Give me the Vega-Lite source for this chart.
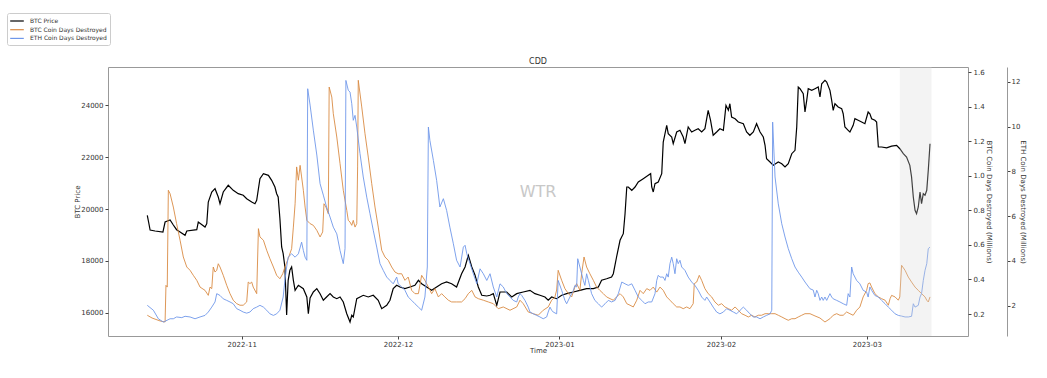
{
"$schema":"https://vega.github.io/schema/vega-lite/v6.json",
"width":860,"height":269,
"autosize":"none",
"padding":{"left":108,"top":67,"right":79,"bottom":42},
"background":"white",
"title":{"text":"CDD","fontSize":8,"font":"DejaVu Sans","fontWeight":"normal","color":"#333","offset":4,"frame":"group","anchor":"middle","dy":57.5},
"config":{
"view":{"stroke":"#999","strokeWidth":1},
"axis":{"labelFont":"DejaVu Sans","titleFont":"DejaVu Sans","labelFontSize":7,"titleFontSize":7,"titleFontWeight":"normal","labelColor":"#333","titleColor":"#333","tickColor":"#444","tickSize":3,"grid":false,"domain":false,"labelPadding":2}
},
"datasets":{
"btc":[
{"t":"2022-10-13T21:00","v":19758},{"t":"2022-10-14T03:00","v":19500},{"t":"2022-10-14T10:00","v":19192},{"t":"2022-10-15T09:00","v":19154},{"t":"2022-10-16T21:00","v":19115},{"t":"2022-10-17T07:00","v":19500},{"t":"2022-10-18T06:00","v":19577},{"t":"2022-10-18T21:00","v":19385},{"t":"2022-10-19T12:00","v":19204},{"t":"2022-10-20T04:00","v":19115},{"t":"2022-10-21T03:00","v":18989},{"t":"2022-10-21T11:00","v":19154},{"t":"2022-10-23T09:00","v":19204},{"t":"2022-10-23T16:00","v":19500},{"t":"2022-10-24T23:00","v":19308},{"t":"2022-10-25T07:00","v":19435},{"t":"2022-10-25T14:00","v":20269},{"t":"2022-10-26T06:00","v":20654},{"t":"2022-10-26T21:00","v":20781},{"t":"2022-10-27T12:00","v":20462},{"t":"2022-10-27T20:00","v":20204},{"t":"2022-10-28T11:00","v":20654},{"t":"2022-10-29T10:00","v":20912},{"t":"2022-10-30T09:00","v":20719},{"t":"2022-10-31T08:00","v":20589},{"t":"2022-11-01T07:00","v":20527},{"t":"2022-11-01T23:00","v":20396},{"t":"2022-11-02T22:00","v":20269},{"t":"2022-11-03T13:00","v":20204},{"t":"2022-11-03T21:00","v":20335},{"t":"2022-11-04T12:00","v":21166},{"t":"2022-11-05T04:00","v":21358},{"t":"2022-11-06T03:00","v":21296},{"t":"2022-11-06T18:00","v":21104},{"t":"2022-11-07T09:00","v":20846},{"t":"2022-11-07T17:00","v":20589},{"t":"2022-11-08T00:00","v":20462},{"t":"2022-11-08T08:00","v":19627},{"t":"2022-11-08T16:00","v":18539},{"t":"2022-11-08T23:00","v":18281},{"t":"2022-11-09T07:00","v":17770},{"t":"2022-11-09T15:00","v":15923},{"t":"2022-11-09T22:00","v":17258},{"t":"2022-11-10T06:00","v":17643},{"t":"2022-11-10T14:00","v":17770},{"t":"2022-11-10T22:00","v":17258},{"t":"2022-11-11T06:00","v":16873},{"t":"2022-11-11T21:00","v":17066},{"t":"2022-11-12T20:00","v":16935},{"t":"2022-11-13T12:00","v":16616},{"t":"2022-11-13T19:00","v":15973},{"t":"2022-11-14T03:00","v":16577},{"t":"2022-11-14T18:00","v":16808},{"t":"2022-11-15T10:00","v":16935},{"t":"2022-11-16T01:00","v":16743},{"t":"2022-11-16T16:00","v":16489},{"t":"2022-11-17T07:00","v":16616},{"t":"2022-11-17T23:00","v":16743},{"t":"2022-11-18T14:00","v":16616},{"t":"2022-11-19T06:00","v":16550},{"t":"2022-11-19T21:00","v":16616},{"t":"2022-11-20T12:00","v":16423},{"t":"2022-11-21T04:00","v":15973},{"t":"2022-11-21T19:00","v":15654},{"t":"2022-11-22T03:00","v":15912},{"t":"2022-11-22T10:00","v":15846},{"t":"2022-11-23T02:00","v":16550},{"t":"2022-11-23T17:00","v":16616},{"t":"2022-11-24T08:00","v":16681},{"t":"2022-11-25T07:00","v":16616},{"t":"2022-11-26T06:00","v":16681},{"t":"2022-11-27T05:00","v":16489},{"t":"2022-11-27T21:00","v":16166},{"t":"2022-11-28T20:00","v":16296},{"t":"2022-11-29T11:00","v":16489},{"t":"2022-11-30T02:00","v":16935},{"t":"2022-11-30T18:00","v":17066},{"t":"2022-12-01T09:00","v":17000},{"t":"2022-12-02T08:00","v":16935},{"t":"2022-12-03T07:00","v":17000},{"t":"2022-12-04T06:00","v":17066},{"t":"2022-12-04T22:00","v":17258},{"t":"2022-12-05T13:00","v":17127},{"t":"2022-12-06T12:00","v":17000},{"t":"2022-12-07T11:00","v":16873},{"t":"2022-12-08T10:00","v":17000},{"t":"2022-12-09T09:00","v":17127},{"t":"2022-12-10T08:00","v":17192},{"t":"2022-12-11T07:00","v":17127},{"t":"2022-12-12T06:00","v":17000},{"t":"2022-12-13T05:00","v":17512},{"t":"2022-12-13T21:00","v":17770},{"t":"2022-12-14T12:00","v":18219},{"t":"2022-12-15T04:00","v":17770},{"t":"2022-12-15T19:00","v":17450},{"t":"2022-12-16T10:00","v":17000},{"t":"2022-12-17T02:00","v":16681},{"t":"2022-12-18T01:00","v":16654},{"t":"2022-12-18T16:00","v":16681},{"t":"2022-12-19T07:00","v":16743},{"t":"2022-12-19T23:00","v":16296},{"t":"2022-12-20T14:00","v":16808},{"t":"2022-12-21T21:00","v":16808},{"t":"2022-12-22T20:00","v":16616},{"t":"2022-12-23T19:00","v":16743},{"t":"2022-12-25T01:00","v":16808},{"t":"2022-12-26T08:00","v":16873},{"t":"2022-12-27T07:00","v":16743},{"t":"2022-12-28T06:00","v":16681},{"t":"2022-12-29T05:00","v":16616},{"t":"2022-12-29T20:00","v":16489},{"t":"2022-12-30T12:00","v":16616},{"t":"2022-12-31T11:00","v":16550},{"t":"2023-01-01T10:00","v":16681},{"t":"2023-01-02T09:00","v":16743},{"t":"2023-01-03T16:00","v":16808},{"t":"2023-01-04T22:00","v":16873},{"t":"2023-01-06T05:00","v":16935},{"t":"2023-01-07T12:00","v":16935},{"t":"2023-01-08T11:00","v":17000},{"t":"2023-01-09T02:00","v":17258},{"t":"2023-01-10T01:00","v":17319},{"t":"2023-01-11T00:00","v":17385},{"t":"2023-01-11T08:00","v":17512},{"t":"2023-01-11T23:00","v":18154},{"t":"2023-01-12T15:00","v":18796},{"t":"2023-01-13T06:00","v":19050},{"t":"2023-01-13T14:00","v":19819},{"t":"2023-01-13T22:00","v":20846},{"t":"2023-01-14T05:00","v":20846},{"t":"2023-01-14T21:00","v":20719},{"t":"2023-01-15T12:00","v":20846},{"t":"2023-01-16T03:00","v":21038},{"t":"2023-01-17T02:00","v":21166},{"t":"2023-01-18T01:00","v":21296},{"t":"2023-01-18T12:00","v":21358},{"t":"2023-01-18T17:00","v":20846},{"t":"2023-01-19T00:00","v":20654},{"t":"2023-01-19T08:00","v":20973},{"t":"2023-01-19T23:00","v":21038},{"t":"2023-01-20T15:00","v":21358},{"t":"2023-01-20T22:00","v":22577},{"t":"2023-01-21T14:00","v":23219},{"t":"2023-01-21T21:00","v":22896},{"t":"2023-01-22T13:00","v":22769},{"t":"2023-01-22T20:00","v":22512},{"t":"2023-01-23T12:00","v":22962},{"t":"2023-01-24T03:00","v":23027},{"t":"2023-01-24T18:00","v":22769},{"t":"2023-01-25T02:00","v":22512},{"t":"2023-01-25T17:00","v":23154},{"t":"2023-01-26T09:00","v":22962},{"t":"2023-01-27T00:00","v":23027},{"t":"2023-01-27T15:00","v":23088},{"t":"2023-01-28T07:00","v":22962},{"t":"2023-01-28T22:00","v":23088},{"t":"2023-01-29T13:00","v":23796},{"t":"2023-01-30T00:00","v":23412},{"t":"2023-01-30T12:00","v":22835},{"t":"2023-01-31T04:00","v":22962},{"t":"2023-01-31T19:00","v":23088},{"t":"2023-02-01T11:00","v":23027},{"t":"2023-02-01T23:00","v":23988},{"t":"2023-02-02T10:00","v":23796},{"t":"2023-02-02T17:00","v":24050},{"t":"2023-02-03T01:00","v":23538},{"t":"2023-02-03T17:00","v":23473},{"t":"2023-02-04T08:00","v":23346},{"t":"2023-02-05T07:00","v":23281},{"t":"2023-02-05T22:00","v":22962},{"t":"2023-02-06T13:00","v":22835},{"t":"2023-02-07T05:00","v":22962},{"t":"2023-02-07T20:00","v":23281},{"t":"2023-02-08T12:00","v":22962},{"t":"2023-02-09T03:00","v":22769},{"t":"2023-02-09T11:00","v":22450},{"t":"2023-02-09T18:00","v":21935},{"t":"2023-02-10T10:00","v":21808},{"t":"2023-02-11T01:00","v":21681},{"t":"2023-02-12T00:00","v":21808},{"t":"2023-02-12T16:00","v":21742},{"t":"2023-02-13T07:00","v":21615},{"t":"2023-02-13T22:00","v":21742},{"t":"2023-02-14T14:00","v":22127},{"t":"2023-02-15T05:00","v":22258},{"t":"2023-02-15T13:00","v":23154},{"t":"2023-02-15T20:00","v":24692},{"t":"2023-02-16T04:00","v":24627},{"t":"2023-02-16T19:00","v":24435},{"t":"2023-02-17T03:00","v":23731},{"t":"2023-02-17T11:00","v":24181},{"t":"2023-02-17T18:00","v":24627},{"t":"2023-02-18T10:00","v":24565},{"t":"2023-02-19T01:00","v":24627},{"t":"2023-02-19T16:00","v":24692},{"t":"2023-02-20T00:00","v":24308},{"t":"2023-02-20T08:00","v":24819},{"t":"2023-02-20T23:00","v":24950},{"t":"2023-02-21T07:00","v":24885},{"t":"2023-02-21T22:00","v":24565},{"t":"2023-02-22T06:00","v":24181},{"t":"2023-02-22T13:00","v":23796},{"t":"2023-02-22T21:00","v":24050},{"t":"2023-02-23T12:00","v":23923},{"t":"2023-02-24T04:00","v":23858},{"t":"2023-02-24T11:00","v":23665},{"t":"2023-02-24T19:00","v":23154},{"t":"2023-02-25T10:00","v":23027},{"t":"2023-02-25T18:00","v":22962},{"t":"2023-02-26T09:00","v":23219},{"t":"2023-02-26T17:00","v":23473},{"t":"2023-02-27T08:00","v":23412},{"t":"2023-02-28T00:00","v":23346},{"t":"2023-02-28T15:00","v":23281},{"t":"2023-03-01T06:00","v":23731},{"t":"2023-03-01T14:00","v":23665},{"t":"2023-03-01T22:00","v":23473},{"t":"2023-03-02T13:00","v":23412},{"t":"2023-03-02T21:00","v":23346},{"t":"2023-03-03T05:00","v":22385},{"t":"2023-03-03T20:00","v":22385},{"t":"2023-03-04T19:00","v":22350},{"t":"2023-03-05T18:00","v":22420},{"t":"2023-03-06T17:00","v":22450},{"t":"2023-03-07T08:00","v":22319},{"t":"2023-03-08T00:00","v":22127},{"t":"2023-03-08T15:00","v":22000},{"t":"2023-03-09T06:00","v":21681},{"t":"2023-03-09T14:00","v":21231},{"t":"2023-03-09T22:00","v":20462},{"t":"2023-03-10T06:00","v":19950},{"t":"2023-03-10T13:00","v":19819},{"t":"2023-03-10T21:00","v":20077},{"t":"2023-03-11T05:00","v":20654},{"t":"2023-03-11T12:00","v":20204},{"t":"2023-03-11T20:00","v":20589},{"t":"2023-03-12T04:00","v":20527},{"t":"2023-03-12T12:00","v":20719},{"t":"2023-03-12T19:00","v":21489},{"t":"2023-03-13T03:00","v":22512}
],
"btccdd":[
{"t":"2022-10-13T21:00","v":0.193},{"t":"2022-10-14T19:00","v":0.177},{"t":"2022-10-16T08:00","v":0.160},{"t":"2022-10-17T07:00","v":0.154},{"t":"2022-10-17T11:00","v":0.366},{"t":"2022-10-17T17:00","v":0.356},{"t":"2022-10-17T22:00","v":0.916},{"t":"2022-10-18T06:00","v":0.896},{"t":"2022-10-18T21:00","v":0.819},{"t":"2022-10-19T12:00","v":0.723},{"t":"2022-10-20T04:00","v":0.627},{"t":"2022-10-20T19:00","v":0.530},{"t":"2022-10-21T11:00","v":0.472},{"t":"2022-10-22T02:00","v":0.453},{"t":"2022-10-22T17:00","v":0.424},{"t":"2022-10-23T09:00","v":0.395},{"t":"2022-10-24T00:00","v":0.356},{"t":"2022-10-24T23:00","v":0.337},{"t":"2022-10-25T14:00","v":0.308},{"t":"2022-10-25T22:00","v":0.356},{"t":"2022-10-26T06:00","v":0.347},{"t":"2022-10-26T13:00","v":0.472},{"t":"2022-10-26T21:00","v":0.443},{"t":"2022-10-27T05:00","v":0.453},{"t":"2022-10-27T12:00","v":0.491},{"t":"2022-10-27T20:00","v":0.472},{"t":"2022-10-28T11:00","v":0.424},{"t":"2022-10-29T03:00","v":0.366},{"t":"2022-10-29T18:00","v":0.318},{"t":"2022-10-30T09:00","v":0.280},{"t":"2022-10-31T01:00","v":0.260},{"t":"2022-10-31T16:00","v":0.251},{"t":"2022-11-01T07:00","v":0.251},{"t":"2022-11-01T23:00","v":0.270},{"t":"2022-11-02T06:00","v":0.385},{"t":"2022-11-02T14:00","v":0.376},{"t":"2022-11-02T22:00","v":0.385},{"t":"2022-11-03T05:00","v":0.356},{"t":"2022-11-03T21:00","v":0.318},{"t":"2022-11-04T05:00","v":0.694},{"t":"2022-11-04T12:00","v":0.646},{"t":"2022-11-05T04:00","v":0.627},{"t":"2022-11-05T19:00","v":0.569},{"t":"2022-11-06T10:00","v":0.520},{"t":"2022-11-07T02:00","v":0.472},{"t":"2022-11-07T17:00","v":0.424},{"t":"2022-11-08T08:00","v":0.404},{"t":"2022-11-08T21:00","v":0.433},{"t":"2022-11-09T07:00","v":0.472},{"t":"2022-11-09T22:00","v":0.520},{"t":"2022-11-10T14:00","v":0.578},{"t":"2022-11-10T22:00","v":0.703},{"t":"2022-11-11T06:00","v":0.838},{"t":"2022-11-11T13:00","v":1.051},{"t":"2022-11-11T21:00","v":0.974},{"t":"2022-11-12T05:00","v":1.060},{"t":"2022-11-12T12:00","v":0.993},{"t":"2022-11-12T20:00","v":0.916},{"t":"2022-11-13T04:00","v":0.819},{"t":"2022-11-13T12:00","v":0.742},{"t":"2022-11-14T03:00","v":0.723},{"t":"2022-11-14T18:00","v":0.713},{"t":"2022-11-15T10:00","v":0.684},{"t":"2022-11-16T01:00","v":0.646},{"t":"2022-11-16T13:00","v":0.675},{"t":"2022-11-16T19:00","v":0.838},{"t":"2022-11-17T04:00","v":0.819},{"t":"2022-11-17T15:00","v":0.780},{"t":"2022-11-17T19:00","v":1.513},{"t":"2022-11-18T07:00","v":1.455},{"t":"2022-11-18T14:00","v":1.359},{"t":"2022-11-19T06:00","v":1.224},{"t":"2022-11-19T21:00","v":1.070},{"t":"2022-11-20T12:00","v":0.916},{"t":"2022-11-21T04:00","v":0.800},{"t":"2022-11-21T11:00","v":0.742},{"t":"2022-11-21T19:00","v":0.732},{"t":"2022-11-22T03:00","v":0.713},{"t":"2022-11-22T10:00","v":0.742},{"t":"2022-11-22T18:00","v":0.703},{"t":"2022-11-23T02:00","v":0.723},{"t":"2022-11-23T06:00","v":1.051},{"t":"2022-11-23T09:00","v":1.552},{"t":"2022-11-24T01:00","v":1.398},{"t":"2022-11-24T16:00","v":1.243},{"t":"2022-11-25T07:00","v":1.108},{"t":"2022-11-25T23:00","v":0.954},{"t":"2022-11-26T14:00","v":0.819},{"t":"2022-11-27T05:00","v":0.703},{"t":"2022-11-27T21:00","v":0.569},{"t":"2022-11-28T12:00","v":0.530},{"t":"2022-11-29T03:00","v":0.511},{"t":"2022-11-29T19:00","v":0.472},{"t":"2022-11-30T10:00","v":0.443},{"t":"2022-12-01T01:00","v":0.433},{"t":"2022-12-01T17:00","v":0.433},{"t":"2022-12-02T08:00","v":0.395},{"t":"2022-12-02T23:00","v":0.414},{"t":"2022-12-03T15:00","v":0.337},{"t":"2022-12-04T06:00","v":0.318},{"t":"2022-12-04T22:00","v":0.318},{"t":"2022-12-05T13:00","v":0.424},{"t":"2022-12-06T04:00","v":0.395},{"t":"2022-12-06T20:00","v":0.356},{"t":"2022-12-07T11:00","v":0.318},{"t":"2022-12-08T02:00","v":0.347},{"t":"2022-12-08T18:00","v":0.299},{"t":"2022-12-09T09:00","v":0.318},{"t":"2022-12-10T00:00","v":0.299},{"t":"2022-12-10T16:00","v":0.280},{"t":"2022-12-11T07:00","v":0.270},{"t":"2022-12-12T06:00","v":0.270},{"t":"2022-12-13T05:00","v":0.270},{"t":"2022-12-13T21:00","v":0.289},{"t":"2022-12-14T12:00","v":0.318},{"t":"2022-12-15T04:00","v":0.337},{"t":"2022-12-15T19:00","v":0.299},{"t":"2022-12-16T10:00","v":0.289},{"t":"2022-12-17T09:00","v":0.280},{"t":"2022-12-18T08:00","v":0.270},{"t":"2022-12-19T07:00","v":0.260},{"t":"2022-12-20T06:00","v":0.231},{"t":"2022-12-21T05:00","v":0.241},{"t":"2022-12-22T12:00","v":0.222},{"t":"2022-12-23T19:00","v":0.241},{"t":"2022-12-24T10:00","v":0.280},{"t":"2022-12-25T01:00","v":0.260},{"t":"2022-12-26T00:00","v":0.212},{"t":"2022-12-26T23:00","v":0.202},{"t":"2022-12-27T22:00","v":0.193},{"t":"2022-12-28T21:00","v":0.222},{"t":"2022-12-29T20:00","v":0.241},{"t":"2022-12-30T12:00","v":0.280},{"t":"2022-12-31T03:00","v":0.299},{"t":"2022-12-31T11:00","v":0.339},{"t":"2022-12-31T18:00","v":0.453},{"t":"2023-01-01T10:00","v":0.395},{"t":"2023-01-02T01:00","v":0.347},{"t":"2023-01-02T17:00","v":0.318},{"t":"2023-01-03T08:00","v":0.299},{"t":"2023-01-03T23:00","v":0.356},{"t":"2023-01-04T07:00","v":0.376},{"t":"2023-01-04T15:00","v":0.356},{"t":"2023-01-04T22:00","v":0.337},{"t":"2023-01-05T06:00","v":0.433},{"t":"2023-01-05T17:00","v":0.530},{"t":"2023-01-06T05:00","v":0.472},{"t":"2023-01-06T20:00","v":0.433},{"t":"2023-01-07T12:00","v":0.395},{"t":"2023-01-08T03:00","v":0.356},{"t":"2023-01-08T18:00","v":0.337},{"t":"2023-01-09T10:00","v":0.318},{"t":"2023-01-10T01:00","v":0.299},{"t":"2023-01-10T17:00","v":0.289},{"t":"2023-01-11T08:00","v":0.280},{"t":"2023-01-11T23:00","v":0.299},{"t":"2023-01-12T15:00","v":0.318},{"t":"2023-01-13T06:00","v":0.299},{"t":"2023-01-13T22:00","v":0.260},{"t":"2023-01-14T13:00","v":0.251},{"t":"2023-01-15T04:00","v":0.241},{"t":"2023-01-15T20:00","v":0.280},{"t":"2023-01-16T11:00","v":0.337},{"t":"2023-01-17T02:00","v":0.318},{"t":"2023-01-17T18:00","v":0.347},{"t":"2023-01-18T09:00","v":0.337},{"t":"2023-01-19T00:00","v":0.356},{"t":"2023-01-19T16:00","v":0.327},{"t":"2023-01-20T07:00","v":0.356},{"t":"2023-01-20T22:00","v":0.337},{"t":"2023-01-21T14:00","v":0.299},{"t":"2023-01-22T05:00","v":0.280},{"t":"2023-01-22T20:00","v":0.260},{"t":"2023-01-23T12:00","v":0.241},{"t":"2023-01-24T03:00","v":0.241},{"t":"2023-01-24T18:00","v":0.231},{"t":"2023-01-25T10:00","v":0.241},{"t":"2023-01-26T01:00","v":0.231},{"t":"2023-01-26T16:00","v":0.260},{"t":"2023-01-26T21:00","v":0.376},{"t":"2023-01-27T08:00","v":0.385},{"t":"2023-01-27T20:00","v":0.424},{"t":"2023-01-28T07:00","v":0.395},{"t":"2023-01-28T22:00","v":0.347},{"t":"2023-01-29T13:00","v":0.318},{"t":"2023-01-30T05:00","v":0.299},{"t":"2023-01-30T20:00","v":0.270},{"t":"2023-01-31T12:00","v":0.251},{"t":"2023-02-01T03:00","v":0.260},{"t":"2023-02-01T18:00","v":0.241},{"t":"2023-02-02T10:00","v":0.231},{"t":"2023-02-03T01:00","v":0.222},{"t":"2023-02-03T17:00","v":0.241},{"t":"2023-02-04T08:00","v":0.222},{"t":"2023-02-04T23:00","v":0.202},{"t":"2023-02-05T15:00","v":0.193},{"t":"2023-02-06T06:00","v":0.183},{"t":"2023-02-06T21:00","v":0.193},{"t":"2023-02-07T12:00","v":0.183},{"t":"2023-02-08T04:00","v":0.193},{"t":"2023-02-08T19:00","v":0.193},{"t":"2023-02-09T11:00","v":0.202},{"t":"2023-02-10T02:00","v":0.202},{"t":"2023-02-10T18:00","v":0.202},{"t":"2023-02-11T09:00","v":0.202},{"t":"2023-02-12T00:00","v":0.193},{"t":"2023-02-12T16:00","v":0.183},{"t":"2023-02-13T07:00","v":0.173},{"t":"2023-02-13T22:00","v":0.164},{"t":"2023-02-14T14:00","v":0.173},{"t":"2023-02-15T05:00","v":0.173},{"t":"2023-02-15T20:00","v":0.183},{"t":"2023-02-16T12:00","v":0.193},{"t":"2023-02-17T03:00","v":0.202},{"t":"2023-02-18T02:00","v":0.202},{"t":"2023-02-19T01:00","v":0.189},{"t":"2023-02-20T00:00","v":0.177},{"t":"2023-02-20T23:00","v":0.154},{"t":"2023-02-21T22:00","v":0.173},{"t":"2023-02-22T13:00","v":0.193},{"t":"2023-02-23T05:00","v":0.202},{"t":"2023-02-23T20:00","v":0.193},{"t":"2023-02-24T11:00","v":0.193},{"t":"2023-02-25T03:00","v":0.212},{"t":"2023-02-25T18:00","v":0.202},{"t":"2023-02-26T09:00","v":0.193},{"t":"2023-02-27T01:00","v":0.222},{"t":"2023-02-27T16:00","v":0.241},{"t":"2023-02-28T07:00","v":0.299},{"t":"2023-02-28T23:00","v":0.337},{"t":"2023-03-01T06:00","v":0.376},{"t":"2023-03-01T14:00","v":0.380},{"t":"2023-03-01T22:00","v":0.356},{"t":"2023-03-02T13:00","v":0.318},{"t":"2023-03-03T05:00","v":0.299},{"t":"2023-03-03T20:00","v":0.289},{"t":"2023-03-04T12:00","v":0.280},{"t":"2023-03-05T03:00","v":0.251},{"t":"2023-03-05T11:00","v":0.289},{"t":"2023-03-05T18:00","v":0.308},{"t":"2023-03-06T10:00","v":0.299},{"t":"2023-03-07T01:00","v":0.280},{"t":"2023-03-07T08:00","v":0.299},{"t":"2023-03-07T16:00","v":0.482},{"t":"2023-03-08T08:00","v":0.453},{"t":"2023-03-08T23:00","v":0.414},{"t":"2023-03-09T14:00","v":0.385},{"t":"2023-03-10T06:00","v":0.356},{"t":"2023-03-10T21:00","v":0.337},{"t":"2023-03-11T12:00","v":0.318},{"t":"2023-03-12T04:00","v":0.299},{"t":"2023-03-12T12:00","v":0.280},{"t":"2023-03-12T19:00","v":0.270},{"t":"2023-03-13T03:00","v":0.299}
],
"ethcdd":[
{"t":"2022-10-13T21:00","v":2.02},{"t":"2022-10-15T01:00","v":1.80},{"t":"2022-10-16T00:00","v":1.42},{"t":"2022-10-16T23:00","v":1.27},{"t":"2022-10-18T06:00","v":1.42},{"t":"2022-10-18T21:00","v":1.42},{"t":"2022-10-19T12:00","v":1.50},{"t":"2022-10-20T12:00","v":1.47},{"t":"2022-10-21T03:00","v":1.53},{"t":"2022-10-22T02:00","v":1.50},{"t":"2022-10-23T01:00","v":1.42},{"t":"2022-10-24T00:00","v":1.50},{"t":"2022-10-24T23:00","v":1.57},{"t":"2022-10-25T14:00","v":1.72},{"t":"2022-10-26T06:00","v":1.94},{"t":"2022-10-26T21:00","v":2.17},{"t":"2022-10-27T05:00","v":2.54},{"t":"2022-10-27T20:00","v":2.46},{"t":"2022-10-28T11:00","v":2.31},{"t":"2022-10-29T03:00","v":2.24},{"t":"2022-10-29T18:00","v":2.17},{"t":"2022-10-30T09:00","v":2.09},{"t":"2022-10-31T01:00","v":1.87},{"t":"2022-10-31T16:00","v":1.80},{"t":"2022-11-01T07:00","v":1.72},{"t":"2022-11-01T23:00","v":1.67},{"t":"2022-11-02T14:00","v":1.72},{"t":"2022-11-03T05:00","v":1.87},{"t":"2022-11-03T21:00","v":1.94},{"t":"2022-11-04T12:00","v":2.02},{"t":"2022-11-05T04:00","v":1.94},{"t":"2022-11-05T19:00","v":1.80},{"t":"2022-11-06T10:00","v":1.64},{"t":"2022-11-07T02:00","v":1.57},{"t":"2022-11-07T17:00","v":1.64},{"t":"2022-11-08T08:00","v":1.80},{"t":"2022-11-08T23:00","v":2.39},{"t":"2022-11-09T07:00","v":3.13},{"t":"2022-11-09T15:00","v":3.73},{"t":"2022-11-09T22:00","v":4.17},{"t":"2022-11-10T14:00","v":4.32},{"t":"2022-11-11T06:00","v":4.17},{"t":"2022-11-11T21:00","v":4.32},{"t":"2022-11-12T12:00","v":4.84},{"t":"2022-11-12T20:00","v":4.47},{"t":"2022-11-13T04:00","v":4.17},{"t":"2022-11-13T12:00","v":4.03},{"t":"2022-11-13T16:00","v":11.69},{"t":"2022-11-14T03:00","v":10.96},{"t":"2022-11-14T18:00","v":9.84},{"t":"2022-11-15T10:00","v":8.73},{"t":"2022-11-16T01:00","v":7.45},{"t":"2022-11-16T16:00","v":6.94},{"t":"2022-11-17T07:00","v":6.41},{"t":"2022-11-17T23:00","v":5.96},{"t":"2022-11-18T14:00","v":5.51},{"t":"2022-11-19T06:00","v":5.21},{"t":"2022-11-19T21:00","v":4.47},{"t":"2022-11-20T12:00","v":3.88},{"t":"2022-11-20T20:00","v":4.55},{"t":"2022-11-21T00:00","v":12.06},{"t":"2022-11-21T11:00","v":11.62},{"t":"2022-11-21T19:00","v":11.54},{"t":"2022-11-22T03:00","v":11.02},{"t":"2022-11-22T10:00","v":10.28},{"t":"2022-11-22T18:00","v":10.50},{"t":"2022-11-23T02:00","v":9.98},{"t":"2022-11-23T17:00","v":8.79},{"t":"2022-11-24T08:00","v":7.75},{"t":"2022-11-25T00:00","v":6.85},{"t":"2022-11-25T15:00","v":6.11},{"t":"2022-11-26T06:00","v":5.37},{"t":"2022-11-26T22:00","v":4.62},{"t":"2022-11-27T13:00","v":3.88},{"t":"2022-11-28T04:00","v":3.58},{"t":"2022-11-28T20:00","v":3.28},{"t":"2022-11-29T11:00","v":3.13},{"t":"2022-11-30T02:00","v":2.98},{"t":"2022-11-30T18:00","v":3.28},{"t":"2022-12-01T01:00","v":2.98},{"t":"2022-12-01T17:00","v":2.84},{"t":"2022-12-02T08:00","v":2.69},{"t":"2022-12-02T23:00","v":2.39},{"t":"2022-12-03T15:00","v":2.24},{"t":"2022-12-04T06:00","v":2.09},{"t":"2022-12-04T22:00","v":1.94},{"t":"2022-12-05T13:00","v":1.80},{"t":"2022-12-06T04:00","v":2.39},{"t":"2022-12-06T15:00","v":3.73},{"t":"2022-12-06T20:00","v":9.98},{"t":"2022-12-07T03:00","v":9.38},{"t":"2022-12-07T19:00","v":8.49},{"t":"2022-12-08T10:00","v":7.60},{"t":"2022-12-09T01:00","v":6.41},{"t":"2022-12-09T17:00","v":6.78},{"t":"2022-12-10T08:00","v":6.26},{"t":"2022-12-10T23:00","v":5.51},{"t":"2022-12-11T15:00","v":4.77},{"t":"2022-12-12T06:00","v":4.03},{"t":"2022-12-12T22:00","v":3.73},{"t":"2022-12-13T13:00","v":4.62},{"t":"2022-12-13T21:00","v":4.70},{"t":"2022-12-14T05:00","v":4.32},{"t":"2022-12-14T20:00","v":3.88},{"t":"2022-12-15T11:00","v":3.43},{"t":"2022-12-16T03:00","v":2.98},{"t":"2022-12-16T18:00","v":3.65},{"t":"2022-12-17T09:00","v":3.43},{"t":"2022-12-18T01:00","v":3.13},{"t":"2022-12-18T16:00","v":3.43},{"t":"2022-12-19T07:00","v":2.84},{"t":"2022-12-19T23:00","v":2.39},{"t":"2022-12-20T14:00","v":2.98},{"t":"2022-12-21T05:00","v":2.84},{"t":"2022-12-21T21:00","v":2.54},{"t":"2022-12-22T12:00","v":2.39},{"t":"2022-12-23T03:00","v":2.24},{"t":"2022-12-23T19:00","v":2.17},{"t":"2022-12-24T02:00","v":2.39},{"t":"2022-12-24T10:00","v":2.54},{"t":"2022-12-24T18:00","v":2.46},{"t":"2022-12-25T09:00","v":2.24},{"t":"2022-12-26T00:00","v":1.94},{"t":"2022-12-26T08:00","v":1.72},{"t":"2022-12-26T23:00","v":1.64},{"t":"2022-12-27T15:00","v":1.57},{"t":"2022-12-28T06:00","v":1.50},{"t":"2022-12-28T21:00","v":1.42},{"t":"2022-12-29T13:00","v":1.50},{"t":"2022-12-29T20:00","v":1.72},{"t":"2022-12-30T04:00","v":1.94},{"t":"2022-12-30T12:00","v":1.80},{"t":"2022-12-30T19:00","v":1.72},{"t":"2022-12-31T11:00","v":1.64},{"t":"2022-12-31T18:00","v":3.13},{"t":"2023-01-01T10:00","v":2.69},{"t":"2023-01-02T01:00","v":2.24},{"t":"2023-01-02T09:00","v":2.09},{"t":"2023-01-03T00:00","v":2.39},{"t":"2023-01-03T16:00","v":2.69},{"t":"2023-01-03T23:00","v":2.91},{"t":"2023-01-04T07:00","v":2.84},{"t":"2023-01-04T12:00","v":4.10},{"t":"2023-01-04T22:00","v":3.73},{"t":"2023-01-05T14:00","v":3.13},{"t":"2023-01-05T21:00","v":2.91},{"t":"2023-01-06T05:00","v":3.43},{"t":"2023-01-06T13:00","v":3.13},{"t":"2023-01-07T04:00","v":2.54},{"t":"2023-01-07T19:00","v":2.24},{"t":"2023-01-08T11:00","v":2.09},{"t":"2023-01-09T02:00","v":1.94},{"t":"2023-01-09T18:00","v":2.09},{"t":"2023-01-10T09:00","v":2.24},{"t":"2023-01-11T00:00","v":2.17},{"t":"2023-01-11T16:00","v":2.24},{"t":"2023-01-12T07:00","v":2.54},{"t":"2023-01-12T23:00","v":3.06},{"t":"2023-01-13T14:00","v":2.98},{"t":"2023-01-14T05:00","v":2.91},{"t":"2023-01-14T21:00","v":2.98},{"t":"2023-01-15T12:00","v":2.69},{"t":"2023-01-16T03:00","v":2.39},{"t":"2023-01-16T19:00","v":2.24},{"t":"2023-01-17T10:00","v":2.09},{"t":"2023-01-18T01:00","v":2.17},{"t":"2023-01-18T17:00","v":2.17},{"t":"2023-01-19T08:00","v":2.54},{"t":"2023-01-19T16:00","v":3.13},{"t":"2023-01-19T23:00","v":3.36},{"t":"2023-01-20T07:00","v":3.28},{"t":"2023-01-20T22:00","v":3.28},{"t":"2023-01-21T06:00","v":3.13},{"t":"2023-01-21T14:00","v":3.43},{"t":"2023-01-21T21:00","v":3.28},{"t":"2023-01-22T05:00","v":3.88},{"t":"2023-01-22T13:00","v":4.17},{"t":"2023-01-22T20:00","v":3.88},{"t":"2023-01-23T04:00","v":3.43},{"t":"2023-01-23T12:00","v":4.10},{"t":"2023-01-23T19:00","v":3.88},{"t":"2023-01-24T03:00","v":4.03},{"t":"2023-01-24T11:00","v":3.73},{"t":"2023-01-25T02:00","v":3.58},{"t":"2023-01-25T17:00","v":3.28},{"t":"2023-01-26T09:00","v":3.06},{"t":"2023-01-27T00:00","v":2.91},{"t":"2023-01-27T15:00","v":2.69},{"t":"2023-01-28T07:00","v":2.39},{"t":"2023-01-28T22:00","v":2.24},{"t":"2023-01-29T06:00","v":2.39},{"t":"2023-01-29T21:00","v":2.17},{"t":"2023-01-30T12:00","v":1.94},{"t":"2023-01-31T04:00","v":1.72},{"t":"2023-01-31T19:00","v":1.64},{"t":"2023-02-01T11:00","v":1.72},{"t":"2023-02-02T02:00","v":1.87},{"t":"2023-02-02T17:00","v":1.80},{"t":"2023-02-03T09:00","v":1.72},{"t":"2023-02-04T00:00","v":1.64},{"t":"2023-02-04T16:00","v":1.80},{"t":"2023-02-05T07:00","v":1.94},{"t":"2023-02-05T22:00","v":1.80},{"t":"2023-02-06T13:00","v":1.64},{"t":"2023-02-07T05:00","v":1.50},{"t":"2023-02-07T20:00","v":1.50},{"t":"2023-02-08T12:00","v":1.42},{"t":"2023-02-09T03:00","v":1.50},{"t":"2023-02-09T18:00","v":1.57},{"t":"2023-02-10T10:00","v":1.64},{"t":"2023-02-10T18:00","v":1.80},{"t":"2023-02-10T22:00","v":10.20},{"t":"2023-02-11T09:00","v":7.75},{"t":"2023-02-12T00:00","v":6.55},{"t":"2023-02-12T16:00","v":5.66},{"t":"2023-02-13T07:00","v":5.07},{"t":"2023-02-13T22:00","v":4.55},{"t":"2023-02-14T14:00","v":4.10},{"t":"2023-02-15T05:00","v":3.73},{"t":"2023-02-15T20:00","v":3.50},{"t":"2023-02-16T12:00","v":3.28},{"t":"2023-02-17T03:00","v":3.06},{"t":"2023-02-18T02:00","v":2.76},{"t":"2023-02-18T17:00","v":2.70},{"t":"2023-02-19T01:00","v":2.39},{"t":"2023-02-19T09:00","v":2.69},{"t":"2023-02-19T16:00","v":2.54},{"t":"2023-02-20T00:00","v":2.24},{"t":"2023-02-20T08:00","v":2.39},{"t":"2023-02-20T15:00","v":2.24},{"t":"2023-02-20T23:00","v":2.39},{"t":"2023-02-21T07:00","v":2.24},{"t":"2023-02-21T22:00","v":2.54},{"t":"2023-02-22T06:00","v":2.39},{"t":"2023-02-22T13:00","v":2.31},{"t":"2023-02-23T05:00","v":2.24},{"t":"2023-02-23T20:00","v":2.17},{"t":"2023-02-24T11:00","v":2.09},{"t":"2023-02-25T03:00","v":2.02},{"t":"2023-02-25T10:00","v":2.54},{"t":"2023-02-25T18:00","v":2.39},{"t":"2023-02-26T02:00","v":3.73},{"t":"2023-02-26T09:00","v":3.43},{"t":"2023-02-27T01:00","v":3.13},{"t":"2023-02-27T16:00","v":2.98},{"t":"2023-02-28T07:00","v":2.69},{"t":"2023-02-28T23:00","v":2.61},{"t":"2023-03-01T06:00","v":2.39},{"t":"2023-03-01T14:00","v":2.84},{"t":"2023-03-01T22:00","v":2.69},{"t":"2023-03-02T13:00","v":2.46},{"t":"2023-03-03T05:00","v":2.39},{"t":"2023-03-03T20:00","v":2.24},{"t":"2023-03-04T12:00","v":2.09},{"t":"2023-03-05T03:00","v":1.94},{"t":"2023-03-05T18:00","v":1.80},{"t":"2023-03-06T10:00","v":1.64},{"t":"2023-03-07T01:00","v":1.57},{"t":"2023-03-07T16:00","v":1.54},{"t":"2023-03-08T08:00","v":1.50},{"t":"2023-03-08T23:00","v":1.50},{"t":"2023-03-09T14:00","v":1.53},{"t":"2023-03-09T22:00","v":2.09},{"t":"2023-03-10T06:00","v":1.94},{"t":"2023-03-10T21:00","v":2.02},{"t":"2023-03-11T05:00","v":2.39},{"t":"2023-03-11T12:00","v":2.54},{"t":"2023-03-11T20:00","v":3.13},{"t":"2023-03-12T04:00","v":3.58},{"t":"2023-03-12T12:00","v":3.88},{"t":"2023-03-12T19:00","v":4.55},{"t":"2023-03-13T03:00","v":4.62}
],
"shade":[{"s":"2023-03-07T08:00","e":"2023-03-13T10:00"}],
"mark":[{"t":"2022-12-27T21:00","v":20650,"label":"WTR"}]
},
"layer":[
{
"layer":[
{"data":{"name":"mark"},
"mark":{"type":"text","font":"DejaVu Sans","fontSize":16,"color":"#c8c8c8","baseline":"middle","align":"center"},
"encoding":{
"x":{"field":"t","type":"temporal","title":"Time"},
"y":{"field":"v","type":"quantitative"},
"text":{"field":"label"}
}},
{"data":{"name":"btc"},
"mark":{"type":"line","strokeWidth":1.2,"strokeJoin":"miter"},
"encoding":{
"x":{"field":"t","type":"temporal","title":"Time",
"scale":{"domain":[{"year":2022,"month":10,"date":6,"hours":8},{"year":2023,"month":3,"date":20,"hours":10}]},
"axis":{"tickCount":{"interval":"month","step":1},"format":"%Y-%m","labelPadding":1,"titlePadding":-1,"labelFlush":false}},
"y":{"field":"v","type":"quantitative","title":"BTC Price",
"scale":{"domain":[15115,25462],"nice":false,"zero":false},
"axis":{"orient":"left","values":[16000,18000,20000,22000,24000],"format":"d","titlePadding":0}},
"color":{"datum":"BTC Price","type":"nominal",
"scale":{"domain":["BTC Price","BTC Coin Days Destroyed","ETH Coin Days Destroyed"],"range":["#000000","#d98b44","#6f97ea"]},
"legend":{"title":null,"orient":"none","legendX":-101,"legendY":-54,"symbolType":"M-1.7,0H1.7","symbolSize":64,"symbolStrokeWidth":1.2,"symbolOffset":2,"labelFontSize":6,"labelOffset":8,"labelFont":"DejaVu Sans","labelColor":"#333","strokeColor":"#ccc","fillColor":"white","padding":3,"cornerRadius":2,"rowPadding":0.7}}
}}
]
},
{"data":{"name":"btccdd"},
"mark":{"type":"line","strokeWidth":0.9},
"encoding":{
"x":{"field":"t","type":"temporal","title":"Time"},
"y":{"field":"v","type":"quantitative","title":"BTC Coin Days Destroyed (Millions)",
"scale":{"domain":[0.073,1.629],"nice":false,"zero":false},
"axis":{"orient":"right","values":[0.2,0.4,0.6,0.8,1.0,1.2,1.4,1.6],"format":".1f","titlePadding":1}},
"color":{"datum":"BTC Coin Days Destroyed","type":"nominal"}
}},
{"data":{"name":"ethcdd"},
"mark":{"type":"line","strokeWidth":0.9},
"encoding":{
"x":{"field":"t","type":"temporal","title":"Time"},
"y":{"field":"v","type":"quantitative","title":"ETH Coin Days Destroyed (Millions)",
"scale":{"domain":[0.65,12.66],"nice":false,"zero":false},
"axis":{"orient":"right","offset":39,"values":[2,4,6,8,10,12],"format":"d","domain":true,"domainColor":"#999","labelPadding":1,"titlePadding":0}},
"color":{"datum":"ETH Coin Days Destroyed","type":"nominal"}
}},
{"data":{"name":"shade"},
"mark":{"type":"rect","color":"#d6d6d6","opacity":0.3},
"encoding":{
"x":{"field":"s","type":"temporal","title":"Time"},
"x2":{"field":"e"}
}}
],
"resolve":{"scale":{"y":"independent"}}
}
